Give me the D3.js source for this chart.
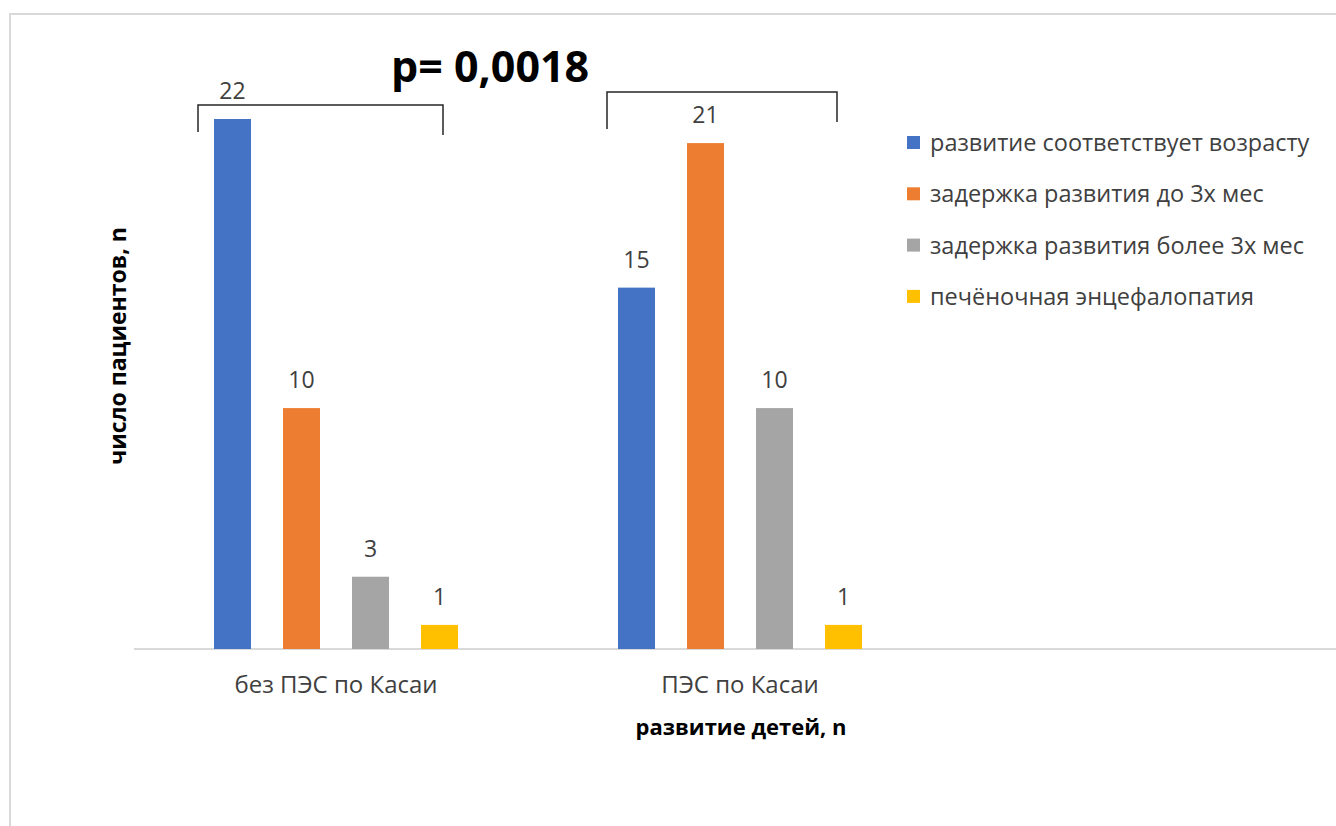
<!DOCTYPE html>
<html>
<head>
<meta charset="utf-8">
<script src="https://cdn.jsdelivr.net/npm/d3@7"></script>
<style>
  html, body { margin: 0; padding: 0; background: #fff; }
  svg { display: block; font-family: "Open Sans", sans-serif; }
</style>
</head>
<body>
<svg id="chart" width="1336" height="826"></svg>
<script>
// Groups of children (with / without portoenterostomy by Kasai)
const categories = ["без ПЭС по Касаи", "ПЭС по Касаи"];
// Developmental outcome series
const seriesNames = [
  "развитие соответствует возрасту",
  "задержка развития до 3х мес",
  "задержка развития более 3х мес",
  "печёночная энцефалопатия"
];
const seriesColors = ["#4472C4", "#ED7D31", "#A5A5A5", "#FFC000"];
// Patient counts per group, in series order
const valuesNoPES = [22, 10, 3, 1];
const valuesPES = [15, 21, 10, 1];
const groupValues = [valuesNoPES, valuesPES];

const yAxisTitle = "число пациентов, n";
const xAxisTitle = "развитие детей, n";
const pLabel = "p= 0,0018";

const svg = d3.select("#chart");
const W = 1336, H = 826;

svg.append("rect").attr("width", W).attr("height", H).attr("fill", "#fff");

// chart area frame
svg.append("rect")
  .attr("x", 10).attr("y", 14)
  .attr("width", W + 20).attr("height", H + 20)
  .attr("fill", "none")
  .attr("stroke", "#d9d9d9")
  .attr("stroke-width", 2);

const baseY = 649;
const y = d3.scaleLinear().domain([0, 22]).range([baseY, 119]);

const x0 = d3.scaleBand().domain(categories).range([134, 942]).paddingInner(0).paddingOuter(0);
const x1 = d3.scaleBand().domain(seriesNames).range([-138, 138]).paddingInner(0.464).paddingOuter(0.232);

// baseline
svg.append("line")
  .attr("x1", 134).attr("x2", W)
  .attr("y1", baseY).attr("y2", baseY)
  .attr("stroke", "#d9d9d9").attr("stroke-width", 2);

// bars and value labels
const groups = svg.selectAll("g.grp")
  .data(categories.map((c, i) => ({ cat: c, vals: groupValues[i] })))
  .join("g")
  .attr("class", "grp")
  .attr("transform", d => `translate(${x0(d.cat) + x0.bandwidth() / 2},0)`);

groups.selectAll("rect")
  .data(d => d.vals.map((v, j) => ({ name: seriesNames[j], v, color: seriesColors[j] })))
  .join("rect")
  .attr("x", d => x1(d.name))
  .attr("width", x1.bandwidth())
  .attr("y", d => y(d.v))
  .attr("height", d => baseY - y(d.v))
  .attr("fill", d => d.color);

groups.selectAll("text.val")
  .data(d => d.vals.map((v, j) => ({ name: seriesNames[j], v })))
  .join("text")
  .attr("class", "val")
  .attr("x", d => x1(d.name) + x1.bandwidth() / 2)
  .attr("y", d => y(d.v) - 20)
  .attr("text-anchor", "middle")
  .attr("font-size", 23)
  .attr("fill", "#404040")
  .text(d => d.v);

// category axis
const xAxis = d3.axisBottom(x0).tickSize(0).tickPadding(0);
const gx = svg.append("g").attr("transform", `translate(0,${baseY})`).call(xAxis);
gx.select(".domain").remove();
gx.selectAll("text")
  .attr("dy", null)
  .attr("y", 44)
  .attr("font-family", "Open Sans, sans-serif")
  .attr("font-size", 24)
  .attr("fill", "#404040");

// axis titles
svg.append("text")
  .attr("x", 741).attr("y", 735)
  .attr("text-anchor", "middle")
  .attr("font-size", 22).attr("font-weight", "bold")
  .attr("fill", "#000")
  .text(xAxisTitle);

svg.append("text")
  .attr("transform", "translate(126,346) rotate(-90)")
  .attr("text-anchor", "middle")
  .attr("font-size", 23).attr("font-weight", "bold")
  .attr("fill", "#000")
  .text(yAxisTitle);

// comparison brackets over each group
const brackets = [
  { x1: 198, x2: 443, top: 105, l: 132, r: 135 },
  { x1: 607, x2: 837, top: 92, l: 129, r: 122 }
];
svg.selectAll("path.br")
  .data(brackets)
  .join("path")
  .attr("class", "br")
  .attr("d", d => `M${d.x1},${d.l}V${d.top}H${d.x2}V${d.r}`)
  .attr("fill", "none")
  .attr("stroke", "#262626")
  .attr("stroke-width", 1.5);

svg.append("text")
  .attr("x", 391).attr("y", 82)
  .attr("font-size", 43).attr("font-weight", "bold")
  .attr("fill", "#000")
  .text(pLabel);

// legend
const legend = svg.append("g");
const rows = legend.selectAll("g")
  .data(seriesNames.map((n, i) => ({ n, c: seriesColors[i], i })))
  .join("g")
  .attr("transform", d => `translate(907,${143 + d.i * 51.3})`);
rows.append("rect")
  .attr("x", 0).attr("y", -7).attr("width", 13).attr("height", 13)
  .attr("fill", d => d.c);
rows.append("text")
  .attr("x", 23).attr("y", 8)
  .attr("font-size", 23.5)
  .attr("fill", "#404040")
  .text(d => d.n);
</script>
</body>
</html>
